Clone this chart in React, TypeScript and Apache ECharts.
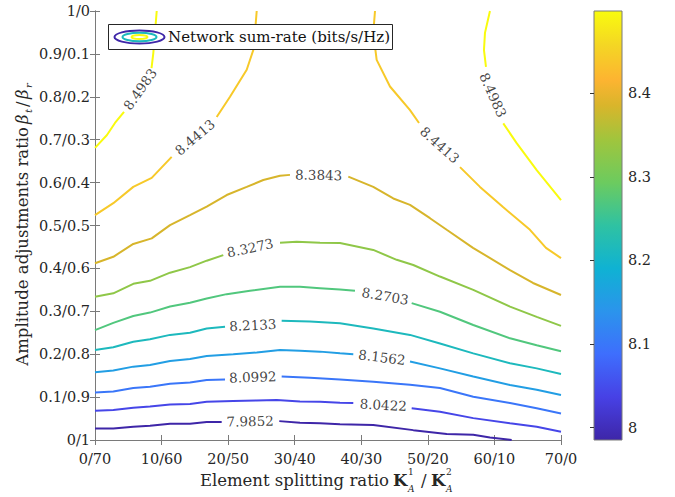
import React, { useEffect, useRef } from "react";
import * as echarts from "echarts";

// ---------- data ----------
const xTickValues = [0, 10, 20, 30, 40, 50, 60, 70];
const xTickLabels = ["0/70", "10/60", "20/50", "30/40", "40/30", "50/20", "60/10", "70/0"];
const yTickLabels = ["0/1", "0.1/0.9", "0.2/0.8", "0.3/0.7", "0.4/0.6", "0.5/0.5", "0.6/0.4", "0.7/0.3", "0.8/0.2", "0.9/0.1", "1/0"];
const colorbarTicks = [8, 8.1, 8.2, 8.3, 8.4];

const levels = [7.9852, 8.0422, 8.0992, 8.1562, 8.2133, 8.2703, 8.3273, 8.3843, 8.4413, 8.4983];

// contour polylines (x = element split K1, y = beta_t), segments separated at label gaps
const c7_9852 = [
  [[0, 0.027], [2.75, 0.027], [5.75, 0.031], [8.26, 0.033], [11.27, 0.038], [14.27, 0.038], [16.78, 0.042], [19.03, 0.042]],
  [[27.68, 0.044], [30.79, 0.040], [33.8, 0.039], [36.8, 0.037], [41.8, 0.035], [47.81, 0.023], [52.83, 0.014], [56.82, 0.012], [59.33, 0.006], [62.59, 0.0]],
];
const c8_0422 = [
  [[0, 0.068], [2.75, 0.07], [5.75, 0.075], [8.26, 0.078], [11.27, 0.083], [14.27, 0.084], [16.78, 0.089], [20.77, 0.091], [24.29, 0.092], [27.29, 0.093], [30.79, 0.09], [33.8, 0.089], [36.8, 0.087], [38.8, 0.086]],
  [[47.57, 0.074], [51.82, 0.066], [56.82, 0.051], [62.34, 0.039], [66.35, 0.031], [70, 0.019]],
];
const c8_0992 = [
  [[0, 0.111], [2.75, 0.113], [5.75, 0.121], [8.26, 0.124], [11.27, 0.131], [14.27, 0.134], [16.78, 0.14], [19.53, 0.141]],
  [[28.04, 0.148], [32.3, 0.145], [36.8, 0.141], [41.8, 0.136], [47.32, 0.129], [51.82, 0.121], [56.82, 0.101], [62.34, 0.086], [66.35, 0.074], [70, 0.062]],
];
const c8_1562 = [
  [[0, 0.158], [2.75, 0.162], [5.75, 0.171], [8.26, 0.175], [11.27, 0.184], [14.27, 0.189], [16.78, 0.196], [20.77, 0.2], [24.29, 0.204], [27.79, 0.21], [30.79, 0.208], [33.8, 0.206], [36.8, 0.202], [38.8, 0.2]],
  [[47.32, 0.183], [51.82, 0.167], [56.82, 0.148], [62.34, 0.128], [66.35, 0.117], [70, 0.105]],
];
const c8_2133 = [
  [[0, 0.21], [2.75, 0.216], [5.75, 0.229], [8.26, 0.235], [11.27, 0.245], [14.27, 0.25], [16.78, 0.26], [19.53, 0.264]],
  [[28.04, 0.278], [32.3, 0.276], [36.8, 0.272], [41.8, 0.26], [47.32, 0.245], [51.82, 0.225], [56.82, 0.202], [62.34, 0.179], [66.35, 0.167], [70, 0.154]],
];
const c8_2703 = [
  [[0, 0.256], [2.75, 0.273], [5.75, 0.289], [8.26, 0.297], [11.27, 0.311], [14.27, 0.32], [16.78, 0.33], [19.78, 0.34], [23.28, 0.348], [27.79, 0.357], [30.79, 0.357], [33.8, 0.354], [36.8, 0.351], [39.05, 0.348]],
  [[47.57, 0.319], [51.82, 0.299], [56.82, 0.268], [62.34, 0.237], [66.35, 0.221], [70, 0.207]],
];
const c8_3273 = [
  [[0, 0.334], [2.75, 0.342], [5.75, 0.364], [8.26, 0.371], [11.27, 0.39], [14.27, 0.403], [16.78, 0.418], [19.27, 0.431]],
  [[27.79, 0.46], [30.3, 0.462], [33.8, 0.46], [36.8, 0.459], [41.8, 0.443], [45.32, 0.42], [47.81, 0.408], [51.82, 0.381], [56.82, 0.35], [62.34, 0.311], [66.35, 0.287], [70, 0.266]],
];
const c8_3843 = [
  [[0, 0.412], [2.75, 0.427], [5.75, 0.457], [8.52, 0.47], [11.27, 0.501], [14.27, 0.524], [16.78, 0.544], [19.78, 0.571], [22.79, 0.59], [25.28, 0.606], [27.79, 0.616], [29.29, 0.618]],
  [[38.05, 0.614], [41.8, 0.59], [44.81, 0.563], [47.32, 0.548], [50.32, 0.517], [52.83, 0.49], [56.78, 0.448], [62.34, 0.396], [65.79, 0.366], [70, 0.338]],
];
const c8_4413 = [
  [[24.29, 1.0], [24.03, 0.949], [23.78, 0.909], [22.79, 0.863], [20.28, 0.8], [18.28, 0.753]],
  [[11.52, 0.66], [8.52, 0.611], [5.75, 0.59], [2.75, 0.552], [0, 0.524]],
  [[42.06, 1.0], [41.8, 0.949], [42.31, 0.886], [44.31, 0.824], [47.32, 0.769], [48.67, 0.739]],
  [[54.83, 0.636], [57.83, 0.59], [61.29, 0.543], [65.34, 0.49], [67.74, 0.448], [70, 0.424]],
];
const c8_4983 = [
  [[9.27, 1.0], [9.01, 0.949], [8.76, 0.902], [8.49, 0.867]],
  [[4.36, 0.765], [3.0, 0.739], [1.8, 0.711], [0, 0.681]],
  [[59.33, 1.0], [58.58, 0.949], [58.43, 0.909], [58.73, 0.87]],
  [[61.33, 0.738], [63.34, 0.692], [66.35, 0.629], [70, 0.559]],
];

const contourSegments = [c7_9852, c8_0422, c8_0992, c8_1562, c8_2133, c8_2703, c8_3273, c8_3843, c8_4413, c8_4983];

// contour labels: [level index, x, y, rotation deg]
const contourLabels = [
  [0, 23.3, 0.044, 1],
  [1, 43.3, 0.082, -3],
  [2, 23.7, 0.147, 2],
  [3, 43.1, 0.193, -7],
  [4, 23.7, 0.268, 3],
  [5, 43.6, 0.336, -10],
  [6, 23.3, 0.448, 12],
  [7, 33.6, 0.618, -1],
  [8, 15.0, 0.706, 40],
  [8, 51.8, 0.688, -42],
  [9, 6.76, 0.818, 55],
  [9, 59.8, 0.804, -66],
];

// ---------- style ----------
const FONT = "DejaVu Serif";
const AXIS_COLOR = "#7a7a7a";
const TEXT_COLOR = "#262626";
const PARULA: [number, string][] = [
  [0, "#3e26a8"],
  [0.1, "#4741e5"],
  [0.2, "#3e6efd"],
  [0.3, "#2b94ec"],
  [0.4, "#0fb2d3"],
  [0.5, "#2fc2a2"],
  [0.6, "#6ccb5f"],
  [0.7, "#a0c53d"],
  [0.78, "#d9b52b"],
  [0.84, "#fdb431"],
  [0.92, "#f4d624"],
  [1, "#f9fb0e"],
];

function hexToRgb(h: string) {
  return [parseInt(h.slice(1, 3), 16), parseInt(h.slice(3, 5), 16), parseInt(h.slice(5, 7), 16)];
}
function parula(t: number) {
  for (let i = 0; i < PARULA.length - 1; i++) {
    const [t0, c0] = PARULA[i];
    const [t1, c1] = PARULA[i + 1];
    if (t <= t1 || i === PARULA.length - 2) {
      const f = Math.max(0, Math.min(1, (t - t0) / (t1 - t0)));
      const a = hexToRgb(c0), b = hexToRgb(c1);
      const r = a.map((v, k) => Math.round(v + (b[k] - v) * f));
      return `rgb(${r[0]},${r[1]},${r[2]})`;
    }
  }
  return PARULA[PARULA.length - 1][1];
}

export default function App() {
  const ref = useRef<HTMLDivElement>(null);
  useEffect(() => {
    if (!ref.current) return;
    const chart = echarts.init(ref.current, undefined, { renderer: "svg" });
    const cMin = levels[0];
    const cMax = levels[levels.length - 1];
    const colorOf = (v: number) => parula((v - cMin) / (cMax - cMin));

    const lineSeries: any[] = [];
    contourSegments.forEach((segs, li) => {
      segs.forEach((seg) => {
        lineSeries.push({
          type: "line",
          xAxisIndex: 0,
          yAxisIndex: 0,
          data: seg,
          showSymbol: false,
          symbol: "none",
          silent: true,
          lineStyle: { color: colorOf(levels[li]), width: 2 },
          z: 3,
        });
      });
    });

    const labelSeries = {
      type: "scatter",
      xAxisIndex: 0,
      yAxisIndex: 0,
      symbolSize: 2,
      itemStyle: { color: "rgba(0,0,0,0)" },
      silent: true,
      z: 4,
      data: contourLabels.map(([li, x, y, rot]) => ({
        value: [x, y],
        name: levels[li].toFixed(4),
        label: {
          show: true,
          position: "inside",
          align: "center",
          verticalAlign: "middle",
          rotate: rot,
          formatter: levels[li].toFixed(4),
          fontFamily: FONT,
          fontSize: 13.5,
          color: "#111",
        },
      })),
    };

    const gradStops = PARULA.map(([o, c]) => ({ offset: o, color: c }));
    const colorbarSeries = {
      type: "custom",
      xAxisIndex: 2,
      yAxisIndex: 2,
      silent: true,
      data: [[0]],
      renderItem: (_p: any, api: any) => {
        const p0 = api.coord([0, cMin]);
        const p1 = api.coord([1, cMax]);
        return {
          type: "rect",
          shape: { x: p0[0], y: p1[1], width: p1[0] - p0[0], height: p0[1] - p1[1] },
          style: {
            fill: new echarts.graphic.LinearGradient(0, 1, 0, 0, gradStops),
            stroke: AXIS_COLOR,
            lineWidth: 1,
          },
        };
      },
    };

    const tickLabelStyle = { fontFamily: FONT, fontSize: 14.5, color: TEXT_COLOR };
    const axLine = { show: true, lineStyle: { color: AXIS_COLOR, width: 1 } };
    const axTick = { show: true, inside: true, length: 5, lineStyle: { color: AXIS_COLOR } };

    const titleFs = 16.5;
    const graphic: any[] = [
      // x-axis title
      { type: "text", x: 389, y: 480, style: { text: "Element splitting ratio", font: `${titleFs}px '${FONT}'`, fill: TEXT_COLOR, textAlign: "right", textVerticalAlign: "middle" } },
      { type: "text", x: 393, y: 480, style: { text: "K", font: `bold ${titleFs}px '${FONT}'`, fill: TEXT_COLOR, textAlign: "left", textVerticalAlign: "middle" } },
      { type: "text", x: 408, y: 472, style: { text: "1", font: `9px '${FONT}'`, fill: TEXT_COLOR, textAlign: "left", textVerticalAlign: "middle" } },
      { type: "text", x: 408, y: 489, style: { text: "A", font: `italic 9px '${FONT}'`, fill: TEXT_COLOR, textAlign: "left", textVerticalAlign: "middle" } },
      { type: "text", x: 421, y: 480, style: { text: "/", font: `${titleFs}px '${FONT}'`, fill: TEXT_COLOR, textAlign: "left", textVerticalAlign: "middle" } },
      { type: "text", x: 431, y: 480, style: { text: "K", font: `bold ${titleFs}px '${FONT}'`, fill: TEXT_COLOR, textAlign: "left", textVerticalAlign: "middle" } },
      { type: "text", x: 446, y: 472, style: { text: "2", font: `9px '${FONT}'`, fill: TEXT_COLOR, textAlign: "left", textVerticalAlign: "middle" } },
      { type: "text", x: 446, y: 489, style: { text: "A", font: `italic 9px '${FONT}'`, fill: TEXT_COLOR, textAlign: "left", textVerticalAlign: "middle" } },
      // y-axis title (rotated)
      { type: "text", x: 22, y: 127, rotation: Math.PI / 2, style: { text: "Amplitude adjustments ratio", font: `${titleFs}px '${FONT}'`, fill: TEXT_COLOR, textAlign: "right", textVerticalAlign: "middle" } },
      { type: "text", x: 22, y: 124, rotation: Math.PI / 2, style: { text: "β", font: `italic ${titleFs}px '${FONT}'`, fill: TEXT_COLOR, textAlign: "left", textVerticalAlign: "middle" } },
      { type: "text", x: 28, y: 113, rotation: Math.PI / 2, style: { text: "t", font: `italic 10px '${FONT}'`, fill: TEXT_COLOR, textAlign: "left", textVerticalAlign: "middle" } },
      { type: "text", x: 22, y: 107, rotation: Math.PI / 2, style: { text: "/", font: `${titleFs}px '${FONT}'`, fill: TEXT_COLOR, textAlign: "left", textVerticalAlign: "middle" } },
      { type: "text", x: 22, y: 99, rotation: Math.PI / 2, style: { text: "β", font: `italic ${titleFs}px '${FONT}'`, fill: TEXT_COLOR, textAlign: "left", textVerticalAlign: "middle" } },
      { type: "text", x: 28, y: 88, rotation: Math.PI / 2, style: { text: "r", font: `italic 10px '${FONT}'`, fill: TEXT_COLOR, textAlign: "left", textVerticalAlign: "middle" } },
      // legend
      { type: "rect", z: 100, shape: { x: 108.5, y: 24.5, width: 284, height: 25 }, style: { fill: "#fff", stroke: "#262626", lineWidth: 1 } },
      { type: "ellipse", z: 101, shape: { cx: 139.5, cy: 37, rx: 25, ry: 6.5 }, style: { fill: "none", stroke: colorOf(levels[0]), lineWidth: 2 } },
      { type: "ellipse", z: 101, shape: { cx: 139.5, cy: 37, rx: 17, ry: 4.3 }, style: { fill: "none", stroke: colorOf(levels[4]), lineWidth: 2 } },
      { type: "ellipse", z: 101, shape: { cx: 139.5, cy: 37, rx: 8, ry: 2 }, style: { fill: "none", stroke: colorOf(levels[9]), lineWidth: 2 } },
      { type: "text", z: 101, x: 168, y: 37, style: { text: "Network sum-rate (bits/s/Hz)", font: `15px '${FONT}'`, fill: "#111", textAlign: "left", textVerticalAlign: "middle" } },
    ];

    chart.setOption({
      animation: false,
      backgroundColor: "#fff",
      grid: [
        { left: 95, top: 11, width: 466, height: 429, containLabel: false },
        { left: 594, top: 11, width: 28, height: 429, containLabel: false },
      ],
      xAxis: [
        {
          type: "value", gridIndex: 0, min: 0, max: 70, interval: 10, position: "bottom",
          axisLine: axLine, axisTick: axTick, splitLine: { show: false },
          axisLabel: { ...tickLabelStyle, margin: 11, formatter: (v: number) => xTickLabels[xTickValues.indexOf(Math.round(v))] ?? "" },
        },
        {
          type: "value", gridIndex: 0, min: 0, max: 70, interval: 10, position: "top",
          axisLine: axLine, axisTick: axTick, splitLine: { show: false }, axisLabel: { show: false },
        },
        { type: "value", gridIndex: 1, min: 0, max: 1, show: false },
      ],
      yAxis: [
        {
          type: "value", gridIndex: 0, min: 0, max: 1, interval: 0.1, position: "left",
          axisLine: axLine, axisTick: axTick, splitLine: { show: false },
          axisLabel: { ...tickLabelStyle, margin: 5, formatter: (v: number) => yTickLabels[Math.round(v * 10)] ?? "" },
        },
        {
          type: "value", gridIndex: 0, min: 0, max: 1, interval: 0.1, position: "right",
          axisLine: axLine, axisTick: axTick, splitLine: { show: false }, axisLabel: { show: false },
        },
        {
          type: "value", gridIndex: 1, min: cMin, max: cMax, position: "right", z: 10,
          axisLine: { show: false },
          splitLine: { show: false },
          axisTick: { show: true, inside: true, length: 4, lineStyle: { color: "#333" }, customValues: colorbarTicks },
          axisLabel: { ...tickLabelStyle, margin: 6, customValues: colorbarTicks, formatter: (v: number) => String(Math.round(v * 10) / 10) },
        },
      ],
      series: [...lineSeries, labelSeries, colorbarSeries],
      graphic,
    });
    return () => chart.dispose();
  }, []);
  return <div ref={ref} style={{ width: 675, height: 497, position: "absolute", left: 0, top: 0 }} />;
}
